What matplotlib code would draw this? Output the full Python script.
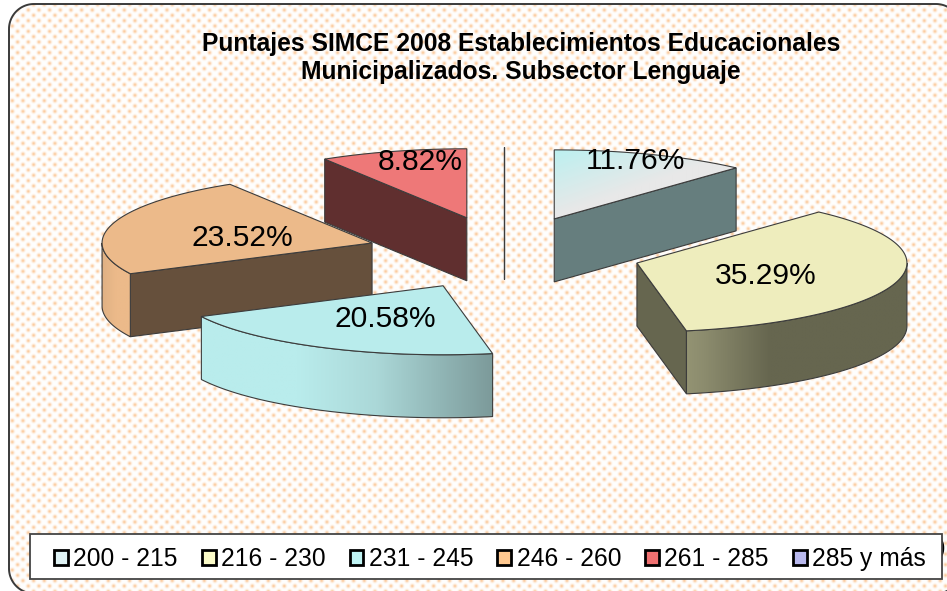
import numpy as np
from matplotlib import pyplot as plt
from matplotlib.patches import Patch, Polygon, Rectangle

plt.rcParams["font.family"] = ["Liberation Sans", "DejaVu Sans"]

# -----------DATA-----------------
categories = ["200 - 215", "216 - 230", "231 - 245", "246 - 260", "261 - 285", "285 y más"]
values = [11.76, 35.29, 20.58, 23.52, 8.82, 0.0]  # percent
title = "Puntajes SIMCE 2008 Establecimientos Educacionales\nMunicipalizados. Subsector Lenguaje"

# -----------STYLE-----------------
legend_colors = ["#dff2f4", "#fbfbc8", "#bff3f3", "#ffc88f", "#f07070", "#b9b9ee"]
top_colors = ["#e8e8e8", "#eeedbd", "#b9ecec", "#ecba8a", "#ee7878", "#999999"]
wall_colors = ["#667e7e", "#66664f", "#7c9a9a", "#66503c", "#602f2f", "#888888"]
# gradient stops for the curved rim, fraction of the width, left to right
rim_stops = [
    None,
    [(0.0, "#939373"), (0.08, "#8c8c6e"), (0.38, "#66664f"), (1.0, "#66664f")],
    [(0.0, "#b9ecec"), (0.33, "#b9ecec"), (0.6, "#abd8d8"), (1.0, "#7c9a9a")],
    [(0.0, "#e0b184"), (0.5, "#ecba8a"), (1.0, "#ecba8a")],
    None,
    None,
]
label_offset = [(81, -58), (129, 13), (-58, 33), (-130, -5), (-47, -56), None]

cx, cy = 504.5, 253.0  # pie centre in pixels
rx, ry = 270.0, 69.0  # pie radii
depth = 63.0
explode = 0.51

fig = plt.figure(figsize=(9.47, 5.91), dpi=100)
ax = fig.add_axes([0, 0, 1, 1])
ax.set_xlim(0, 947)
ax.set_ylim(591, 0)
ax.set_autoscale_on(False)
ax.axis("off")


def hex_rgb(c):
    return [int(c[i : i + 2], 16) / 255 for i in (1, 3, 5)]


def fill_gradient(xy, stops, direction=(1, 0), zorder=2):
    """Fill a polygon with a linear gradient, clipped imshow"""
    xy = np.asarray(xy)
    x0, x1 = xy[:, 0].min(), xy[:, 0].max()
    y0, y1 = xy[:, 1].min(), xy[:, 1].max()
    nx, ny = max(int(x1 - x0), 2), max(int(y1 - y0), 2)
    X, Y = np.meshgrid(np.linspace(x0, x1, nx), np.linspace(y0, y1, ny))
    s = (X - x0) * direction[0] + (Y - y0) * direction[1]
    s = (s - s.min()) / (s.max() - s.min())
    pos = [p for p, _ in stops]
    cols = np.array([hex_rgb(c) for _, c in stops])
    img = np.dstack([np.interp(s, pos, cols[:, k]) for k in range(3)])
    im = ax.imshow(img, extent=(x0, x1, y1, y0), aspect="auto", zorder=zorder, interpolation="bilinear")
    clip = Polygon(xy, closed=True, transform=ax.transData)
    im.set_clip_path(clip)


def outline(xy, zorder=2, face="none"):
    ax.add_patch(Polygon(xy, closed=True, facecolor=face, edgecolor="#3c3c3c", linewidth=0.8, zorder=zorder))


def rounded_rect(x0, y0, x1, y1, r):
    """Rounded rectangle as plain points, curves get mangled when clipped at the canvas"""
    pts = []
    corners = [(x0 + r, y0 + r, 180), (x1 - r, y0 + r, 270), (x1 - r, y1 - r, 0), (x0 + r, y1 - r, 90)]
    for xc, yc, a in corners:
        t = np.radians(np.linspace(a, a + 90, 30))
        pts.append(np.column_stack([xc + r * np.cos(t), yc + r * np.sin(t)]))
    return np.vstack(pts)


# -----------BACKGROUND-----------------
frame = Polygon(
    rounded_rect(9, 4, 961, 593.5, 25), closed=True,
    facecolor="none", edgecolor="#3a3a3a", linewidth=1.4, zorder=1,
)
ax.add_patch(frame)

# dotted texture
px, py = np.meshgrid(np.arange(947) + 0.5, np.arange(591) + 0.5)
pitch = 32 / 3
u = (px - 28.3 + (py - 10)) / pitch
v = (px - 28.3 - (py - 10)) / pitch
du = (u - np.round(u)) * pitch
dv = (v - np.round(v)) * pitch
dots = np.exp(-(du**2 + dv**2) / (2 * 1.9**2))
white = np.array([1.0, 1.0, 1.0])
dot_col = np.array(hex_rgb("#fbcca0"))
tex = white + dots[..., None] * (dot_col - white)
im = ax.imshow(tex, extent=(0, 947, 591, 0), aspect="auto", zorder=0, interpolation="nearest")
im.set_clip_path(frame)

# stray bracket peeking out behind the legend
ax.text(937, 548, ")", fontsize=19, ha="left", va="center", color="black", zorder=1.5)

# -----------PIE-----------------
fractions = np.array(values) / sum(values)
ends = np.cumsum(fractions) * 360
starts = ends - fractions * 360


def rim_point(ax_x, ax_y, deg):
    a = np.radians(deg)
    return ax_x + rx * np.sin(a), ax_y - ry * np.cos(a)


apexes = []
for a0, a1 in zip(starts, ends):
    mid = np.radians((a0 + a1) / 2)
    apexes.append((cx + explode * rx * np.sin(mid), cy - explode * ry * 1.04 * np.cos(mid)))

order = sorted(range(len(values)), key=lambda i: apexes[i][1])
z = 2.0
for i in order:
    ox, oy = apexes[i]
    a0, a1 = starts[i], ends[i]
    arc = np.linspace(a0, a1, 120)
    rim = np.array([rim_point(ox, oy, d) for d in arc])

    # walls facing the viewer
    walls = []
    if values[i] == 0 or np.sin(np.radians(a0)) < -1e-6:
        walls.append(rim[0])
    if values[i] == 0 or np.sin(np.radians(a1)) > 1e-6:
        walls.append(rim[-1])
    for p in walls:
        xy = [(ox, oy), tuple(p), (p[0], p[1] + depth), (ox, oy + depth)]
        outline(xy, zorder=z, face=wall_colors[i])
        z += 0.01

    # curved rim, lower half of the ellipse only
    lo, hi = max(a0, 90), min(a1, 270)
    if hi > lo:
        arc_low = np.linspace(lo, hi, 120)
        edge = np.array([rim_point(ox, oy, d) for d in arc_low])
        xy = np.vstack([edge, edge[::-1] + [0, depth]])
        fill_gradient(xy, rim_stops[i], zorder=z)
        outline(xy, zorder=z + 0.001)
        z += 0.01

    # top face
    xy = np.vstack([[(ox, oy)], rim])
    if values[i] > 0:
        if i == 0:
            fill_gradient(xy, [(0.0, "#bcf0f0"), (0.5, "#e8e8e8"), (1.0, "#e8e8e8")], direction=(0.35, 1), zorder=z)
            outline(xy, zorder=z + 0.001)
        else:
            outline(xy, zorder=z, face=top_colors[i])
    z += 0.01

for i, off in enumerate(label_offset):
    if off is None:
        continue
    ax.text(
        apexes[i][0] + off[0], apexes[i][1] + off[1], f"{values[i]:.2f}%",
        fontsize=21.6, ha="center", va="center", color="black", zorder=10,
    )

# -----------TITLE-----------------
ax.text(521, 58, title, fontsize=17.7, fontweight="bold", ha="center", va="center", linespacing=1.25, zorder=10)

# -----------LEGEND-----------------
ax.add_patch(Rectangle((30, 534), 912, 45, facecolor="white", edgecolor="#444444", linewidth=1.3, zorder=11))
handles = [Patch(facecolor=c, edgecolor="black", linewidth=2) for c in legend_colors]
leg = ax.legend(
    handles, categories, ncol=6, loc="center",
    bbox_to_anchor=(490, 559), bbox_transform=ax.transData,
    frameon=False, fontsize=17.7, handlelength=0.56, handleheight=0.56,
    handletextpad=0.22, columnspacing=0.98, borderpad=0, labelspacing=0,
)
leg.set_zorder(12)

plt.savefig("out.png", dpi=100)
